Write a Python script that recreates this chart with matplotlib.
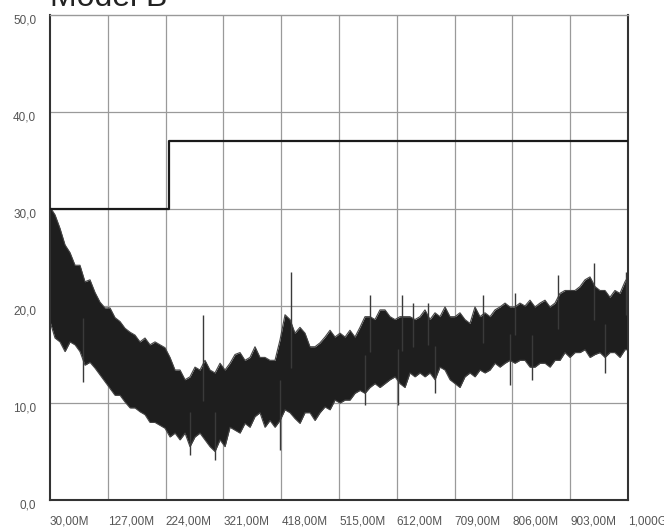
import numpy as np
import matplotlib
matplotlib.use("Agg")
import matplotlib.pyplot as plt
from matplotlib.transforms import ScaledTranslation

plt.rcParams['font.family'] = ['Liberation Sans', 'DejaVu Sans']

# Scan frequencies (MHz)
freq_mhz = [
    30.0, 38.4, 46.8, 55.2, 63.6, 72.0, 80.3, 88.7, 97.1, 105.5,
    113.9, 122.3, 130.7, 139.1, 147.5, 155.9, 164.3, 172.6, 181.0, 189.4,
    197.8, 206.2, 214.6, 223.0, 231.4, 239.8, 248.2, 256.6, 264.9, 273.3,
    281.7, 290.1, 298.5, 306.9, 315.3, 323.7, 332.1, 340.5, 348.9, 357.2,
    365.6, 374.0, 382.4, 390.8, 399.2, 407.6, 416.0, 424.4, 432.8, 441.1,
    449.5, 457.9, 466.3, 474.7, 483.1, 491.5, 499.9, 508.3, 516.7, 525.1,
    533.4, 541.8, 550.2, 558.6, 567.0, 575.4, 583.8, 592.2, 600.6, 609.0,
    617.4, 625.7, 634.1, 642.5, 650.9, 659.3, 667.7, 676.1, 684.5, 692.9,
    701.3, 709.7, 718.0, 726.4, 734.8, 743.2, 751.6, 760.0, 768.4, 776.8,
    785.2, 793.6, 801.9, 810.3, 818.7, 827.1, 835.5, 843.9, 852.3, 860.7,
    869.1, 877.5, 885.8, 894.2, 902.6, 911.0, 919.4, 927.8, 936.2, 944.6,
    953.0, 961.4, 969.7, 978.1, 986.5, 994.9, 1000.0,
]

# Upper and lower envelope of the measured trace (dBuV/m)
trace_upper = [
    30.2, 29.4, 28.0, 26.3, 25.5, 24.2, 24.2, 22.5, 22.7, 21.4,
    20.4, 19.8, 19.8, 18.8, 18.4, 17.7, 17.3, 17.0, 16.3, 16.7,
    16.0, 16.3, 16.0, 15.7, 14.7, 13.4, 13.4, 12.4, 12.7, 13.7,
    13.4, 14.4, 13.4, 13.1, 14.1, 13.4, 14.1, 15.0, 15.2, 14.4,
    14.7, 15.8, 14.7, 14.7, 14.4, 14.4, 16.5, 19.1, 18.6, 17.2,
    17.8, 17.2, 15.8, 15.8, 16.2, 16.8, 17.5, 16.8, 17.2, 16.8,
    17.5, 16.8, 17.8, 18.9, 18.9, 18.6, 19.6, 19.6, 18.9, 18.6,
    18.9, 18.9, 18.9, 18.6, 18.9, 19.6, 18.6, 19.3, 18.9, 19.9,
    18.9, 18.9, 19.3, 18.6, 18.2, 19.9, 18.9, 19.3, 18.9, 19.6,
    19.9, 20.3, 19.9, 19.9, 20.3, 20.0, 20.6, 19.9, 20.3, 20.6,
    19.9, 20.3, 21.3, 21.6, 21.6, 21.6, 22.0, 22.7, 23.0, 22.0,
    21.6, 21.6, 20.9, 21.6, 21.3, 22.5, 23.0,
]
trace_lower = [
    18.4, 16.7, 16.3, 15.3, 16.3, 16.0, 15.3, 13.9, 14.2, 13.6,
    12.9, 12.2, 11.5, 10.8, 10.8, 10.1, 9.5, 9.5, 9.1, 8.8,
    8.0, 8.0, 7.7, 7.4, 6.5, 6.9, 6.2, 6.9, 5.5, 6.5,
    6.9, 6.2, 5.5, 5.0, 6.2, 5.5, 7.5, 7.2, 6.9, 7.9,
    7.5, 8.6, 9.0, 7.5, 8.2, 7.5, 8.2, 9.3, 9.0, 8.4,
    7.9, 9.0, 9.0, 8.2, 9.0, 9.6, 9.3, 10.3, 10.0, 10.3,
    10.3, 11.0, 11.3, 11.0, 11.6, 12.0, 11.6, 12.0, 12.4, 12.7,
    12.0, 11.6, 13.1, 12.7, 13.1, 12.7, 13.1, 12.4, 13.7, 13.4,
    12.4, 12.0, 11.6, 12.7, 13.1, 12.7, 13.4, 13.1, 13.4, 14.1,
    13.7, 14.1, 14.4, 14.1, 14.4, 14.4, 13.7, 13.7, 14.1, 14.1,
    13.7, 14.4, 14.4, 15.2, 14.7, 15.2, 15.2, 15.5, 14.7, 15.0,
    15.2, 14.7, 15.2, 15.2, 14.7, 15.5, 15.5,
]

# Isolated peaks and dips in the trace
peak_freq = [286.8, 434.0, 567.0, 620.7, 639.2, 664.4, 756.7, 810.4, 882.5, 942.9, 996.6]
peak_level = [19.1, 23.5, 21.1, 21.1, 20.3, 20.3, 21.1, 21.3, 23.2, 24.4, 23.5]
dip_freq = [85.4, 265.0, 306.9, 416.0, 558.6, 614.0, 676.1, 802.0, 838.9, 961.4]
dip_level = [12.2, 4.6, 4.1, 5.2, 9.8, 9.8, 11.0, 11.9, 12.4, 13.1]

# Class B limit (step at 230 MHz)
limit_freq = [30, 230, 230, 1000]
limit_level = [30, 30, 37, 37]

x_ticks = [30, 127, 224, 321, 418, 515, 612, 709, 806, 903, 1000]
x_labels = ['30,00M', '127,00M', '224,00M', '321,00M', '418,00M', '515,00M',
            '612,00M', '709,00M', '806,00M', '903,00M', '1,000G']
y_ticks = [0, 10, 20, 30, 40, 50]
y_labels = ['0,0', '10,0', '20,0', '30,0', '40,0', '50,0']

fig = plt.figure(figsize=(6.64, 5.27), dpi=100)
ax = fig.add_axes([50 / 664, 27 / 527, 578 / 664, 485 / 527])
ax.set_xlim(30, 1000)
ax.set_ylim(0, 50)

# grid
for xt in x_ticks[1:-1]:
    ax.axvline(xt, color='#9a9a9a', lw=0.9, zorder=1)
for yt in y_ticks[1:-1]:
    ax.axhline(yt, color='#9a9a9a', lw=0.9, zorder=1)

trace_color = '#1e1e1e'
f = np.array(freq_mhz)
up = np.array(trace_upper)
lo = np.array(trace_lower)
ax.fill_between(f, lo, up, color=trace_color, lw=0, zorder=2)
ax.plot(f, up, color='#444444', lw=0.8, zorder=2)
ax.plot(f, lo, color='#444444', lw=0.8, zorder=2)

mid = (up + lo) / 2
ax.vlines(peak_freq, np.interp(peak_freq, f, mid), peak_level,
          color='#3a3a3a', lw=1.0, zorder=2)
ax.vlines(dip_freq, dip_level, np.interp(dip_freq, f, mid),
          color='#3a3a3a', lw=1.0, zorder=2)

ax.plot(limit_freq, limit_level, color='#1a1a1a', lw=1.6, zorder=3)

# frame
for side in ['left', 'bottom', 'right']:
    ax.spines[side].set_color('#333333')
    ax.spines[side].set_linewidth(1.5)
ax.spines['top'].set_color('#999999')
ax.spines['top'].set_linewidth(1.0)

ax.set_xticks(x_ticks)
ax.set_xticklabels(x_labels, ha='left')
ax.set_yticks(y_ticks)
ax.set_yticklabels(y_labels)
ax.tick_params(axis='both', length=0, labelsize=8.5, labelcolor='#555555')
ax.tick_params(axis='x', pad=11)
ax.tick_params(axis='y', pad=10)
offset = ScaledTranslation(0, -0.04, fig.dpi_scale_trans)
for lbl in ax.get_yticklabels():
    lbl.set_transform(lbl.get_transform() + offset)

fig.text(50 / 664, 1 - 6.5 / 527, 'Model B', fontsize=23, color='#222222',
         ha='left', va='baseline')

fig.savefig('out.png', dpi=100)
